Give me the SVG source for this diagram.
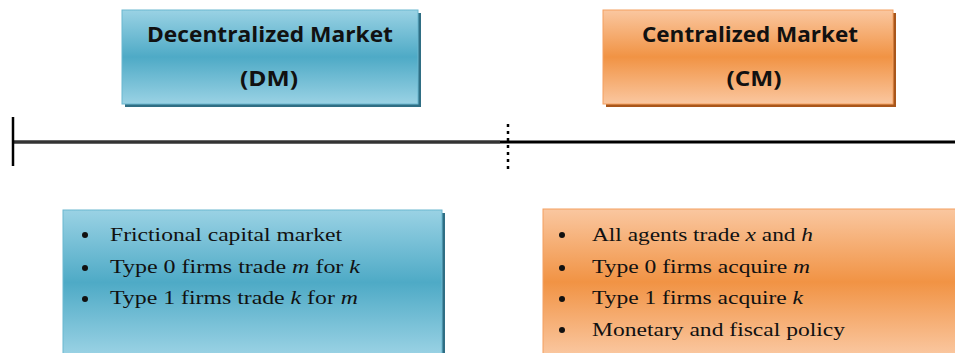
<svg xmlns="http://www.w3.org/2000/svg" width="955" height="353" viewBox="0 0 955 353">
<defs>
<linearGradient id="gb" x1="0" y1="0" x2="0" y2="1">
<stop offset="0" stop-color="#9ad2e4"/><stop offset="0.5" stop-color="#4eaac6"/><stop offset="1" stop-color="#9ad2e4"/>
</linearGradient>
<linearGradient id="go" x1="0" y1="0" x2="0" y2="1">
<stop offset="0" stop-color="#fac7a0"/><stop offset="0.5" stop-color="#f19344"/><stop offset="1" stop-color="#fac7a0"/>
</linearGradient>
</defs>
<style>
.t{font-family:"Open Sans","Liberation Sans",sans-serif;font-weight:bold;font-size:21px;fill:#111;text-anchor:middle}
.b{font-family:"Liberation Serif",serif;font-size:19px;fill:#111}
.i{font-style:italic}
.dot{fill:#111}
</style>
<rect width="955" height="353" fill="#fff"/>
<g id="dm">
<rect x="125" y="13" width="296" height="94" fill="#2f6e84"/>
<rect x="122" y="10" width="296" height="94" fill="url(#gb)" stroke="#6bb7cf" stroke-width="1"/>
<text class="t" x="270" y="42" textLength="246" lengthAdjust="spacingAndGlyphs">Decentralized Market</text>
<text class="t" x="269" y="86" textLength="58" lengthAdjust="spacingAndGlyphs">(DM)</text>
</g>
<g id="cm">
<rect x="606" y="13" width="290" height="94" fill="#a9561a"/>
<rect x="603" y="10" width="290" height="94" fill="url(#go)" stroke="#f4a060" stroke-width="1"/>
<text class="t" x="750" y="42" textLength="216" lengthAdjust="spacingAndGlyphs">Centralized Market</text>
<text class="t" x="754" y="86" textLength="55" lengthAdjust="spacingAndGlyphs">(CM)</text>
</g>
<g id="connectors">
<line x1="13" y1="142" x2="500" y2="142" stroke="#333" stroke-width="3.5"/>
<line x1="500" y1="142" x2="955" y2="142" stroke="#000" stroke-width="3"/>
<line x1="13" y1="117" x2="13" y2="166" stroke="#000" stroke-width="2.5"/>
<line x1="508" y1="124" x2="508" y2="173" stroke="#000" stroke-width="2.5" stroke-dasharray="3,4"/>
</g>
<g id="dmlist">
<rect x="66" y="213" width="379" height="145" fill="#2f6e84"/>
<rect x="63" y="210" width="379" height="145" fill="url(#gb)" stroke="#6bb7cf" stroke-width="1"/>
<circle class="dot" cx="85" cy="235" r="3"/>
<circle class="dot" cx="85" cy="268" r="3"/>
<circle class="dot" cx="85" cy="299" r="3"/>
<text class="b" x="110" y="241" textLength="232" lengthAdjust="spacingAndGlyphs">Frictional capital market</text>
<text class="b" x="110" y="273" textLength="250" lengthAdjust="spacingAndGlyphs">Type 0 firms trade <tspan class="i">m</tspan> for <tspan class="i">k</tspan></text>
<text class="b" x="110" y="304" textLength="248" lengthAdjust="spacingAndGlyphs">Type 1 firms trade <tspan class="i">k</tspan> for <tspan class="i">m</tspan></text>
</g>
<g id="cmlist">
<rect x="543" y="209" width="415" height="146" fill="url(#go)" stroke="#f4a060" stroke-width="1"/>
<circle class="dot" cx="562" cy="235" r="3"/>
<circle class="dot" cx="562" cy="268" r="3"/>
<circle class="dot" cx="562" cy="299" r="3"/>
<circle class="dot" cx="562" cy="330" r="3"/>
<text class="b" x="592" y="241" textLength="221" lengthAdjust="spacingAndGlyphs">All agents trade <tspan class="i">x</tspan> and <tspan class="i">h</tspan></text>
<text class="b" x="592" y="273" textLength="218" lengthAdjust="spacingAndGlyphs">Type 0 firms acquire <tspan class="i">m</tspan></text>
<text class="b" x="592" y="304" textLength="211" lengthAdjust="spacingAndGlyphs">Type 1 firms acquire <tspan class="i">k</tspan></text>
<text class="b" x="592" y="336" textLength="253" lengthAdjust="spacingAndGlyphs">Monetary and fiscal policy</text>
</g>
</svg>
